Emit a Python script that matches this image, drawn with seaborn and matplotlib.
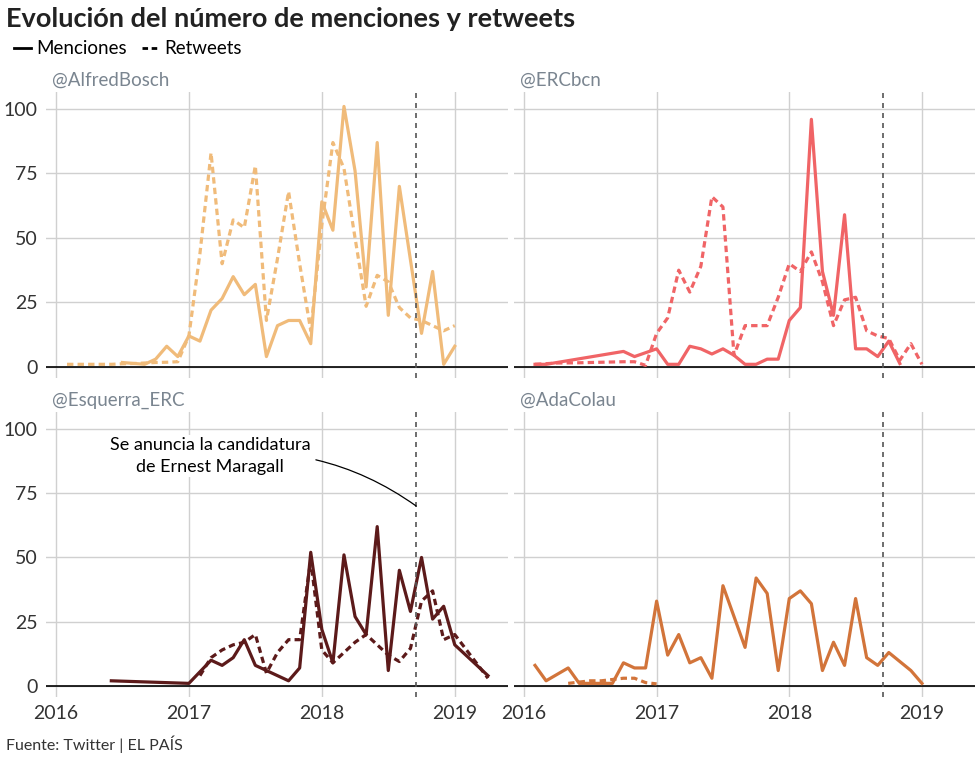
import numpy as np
import pandas as pd
import matplotlib
matplotlib.use("Agg")
import matplotlib.pyplot as plt
import seaborn as sns
from matplotlib.lines import Line2D

plt.rcParams["font.family"] = "Lato"

# Datos (mes, valor)
BOSCH_MEN_MESES = ["2016-07", "2016-09", "2016-10", "2016-11", "2016-12",
                   "2017-01", "2017-02", "2017-03", "2017-04", "2017-05", "2017-06",
                   "2017-07", "2017-08", "2017-09", "2017-10", "2017-11", "2017-12",
                   "2018-01", "2018-02", "2018-03", "2018-04", "2018-05", "2018-06",
                   "2018-07", "2018-08", "2018-10", "2018-11", "2018-12", "2019-01"]
BOSCH_MEN = [1.7, 1, 3, 8, 4, 12, 10, 22, 26.5, 35, 28, 32, 4, 16, 18, 18, 9,
             64, 53, 101, 76, 31, 87, 20, 70, 13, 37, 1, 8]
BOSCH_RT_MESES = ["2016-02", "2016-03", "2016-04", "2016-05", "2016-06", "2016-07",
                  "2016-08", "2016-09", "2016-10", "2016-11", "2016-12",
                  "2017-01", "2017-02", "2017-03", "2017-04", "2017-05", "2017-06",
                  "2017-07", "2017-08", "2017-09", "2017-10", "2017-11", "2017-12",
                  "2018-01", "2018-02", "2018-03", "2018-04", "2018-05", "2018-06",
                  "2018-07", "2018-08", "2018-09", "2018-10", "2018-11", "2018-12", "2019-01"]
BOSCH_RT = [1, 1, 1, 1, 1, 1.2, 1.3, 1.5, 1.7, 1.8, 2,
            12, 44, 83, 40, 57, 54, 78, 18, 42, 68, 40, 14,
            55, 87, 77, 50, 23.5, 35.5, 33, 23, 19, 18, 16, 14, 16]

ERC_MEN_MESES = ["2016-02", "2016-03", "2016-10", "2016-11", "2017-01", "2017-02",
                 "2017-03", "2017-04", "2017-05", "2017-06", "2017-07", "2017-08",
                 "2017-09", "2017-10", "2017-11", "2017-12", "2018-01", "2018-02",
                 "2018-03", "2018-04", "2018-05", "2018-06", "2018-07", "2018-08",
                 "2018-09", "2018-10", "2018-11"]
ERC_MEN = [1, 1, 6, 4, 7, 1, 1, 8, 7, 5, 7, 4.5, 1, 1, 3, 3, 18, 23, 96, 37, 20,
           59, 7, 7, 4, 10, 1.3]
ERC_RT_MESES = ["2016-02", "2016-04", "2016-06", "2016-08", "2016-10", "2016-11",
                "2016-12", "2017-01", "2017-02", "2017-03", "2017-04", "2017-05",
                "2017-06", "2017-07", "2017-08", "2017-09", "2017-10", "2017-11",
                "2017-12", "2018-01", "2018-02", "2018-03", "2018-04", "2018-05",
                "2018-06", "2018-07", "2018-08", "2018-09", "2018-10", "2018-11",
                "2018-12", "2019-01"]
ERC_RT = [1, 1.5, 1.6, 1.8, 2, 2, 0.6, 13, 19, 37.5, 29, 39, 66, 62, 4.5, 16, 16,
          16, 27, 40, 37, 44.6, 33, 16, 26, 27, 14, 12, 11, 2.6, 9, 1]

ESQ_MEN_MESES = ["2016-06", "2017-01", "2017-03", "2017-04", "2017-05", "2017-06",
                 "2017-07", "2017-08", "2017-09", "2017-10", "2017-11", "2017-12",
                 "2018-01", "2018-02", "2018-03", "2018-04", "2018-05", "2018-06",
                 "2018-07", "2018-08", "2018-09", "2018-10", "2018-11", "2018-12",
                 "2019-01", "2019-04"]
ESQ_MEN = [2, 1, 10, 8, 11, 18, 8, 6, 4, 2, 7, 52, 22, 9, 51, 27, 20, 62, 6, 45,
           29, 50, 26, 31, 16, 4]
ESQ_RT_MESES = ["2017-02", "2017-03", "2017-04", "2017-05", "2017-06", "2017-07",
                "2017-08", "2017-09", "2017-10", "2017-11", "2017-12", "2018-01",
                "2018-02", "2018-03", "2018-04", "2018-05", "2018-06", "2018-07",
                "2018-08", "2018-09", "2018-10", "2018-11", "2018-12", "2019-01",
                "2019-04"]
ESQ_RT = [4, 11, 14, 16, 17, 20, 5, 13, 18, 18, 49, 14, 9, 13, 17, 20, 16, 12,
          9.5, 14.6, 33, 37, 18, 20, 3]

ADA_MEN_MESES = ["2016-02", "2016-03", "2016-05", "2016-06", "2016-07", "2016-08",
                 "2016-09", "2016-10", "2016-11", "2016-12", "2017-01", "2017-02",
                 "2017-03", "2017-04", "2017-05", "2017-06", "2017-07", "2017-08",
                 "2017-09", "2017-10", "2017-11", "2017-12", "2018-01", "2018-02",
                 "2018-03", "2018-04", "2018-05", "2018-06", "2018-07", "2018-08",
                 "2018-09", "2018-10", "2018-12", "2019-01"]
ADA_MEN = [8, 2, 7, 1, 1, 1, 1, 9, 7, 7, 33, 12, 20, 9, 11, 3, 39, 27, 15, 42,
           36, 6, 34, 37, 32, 6, 17, 8, 34, 11, 8, 13, 6, 1]
ADA_RT_MESES = ["2016-05", "2016-06", "2016-07", "2016-08", "2016-09", "2016-10",
                "2016-11", "2016-12", "2017-01"]
ADA_RT = [1, 1.5, 2, 2, 2.5, 3, 3, 1.3, 0.8]

CUENTAS = ["@AlfredBosch", "@ERCbcn", "@Esquerra_ERC", "@AdaColau"]
COLORES = ["#F0BB7A", "#F06466", "#5C1A1A", "#D2743A"]
SERIES = [(BOSCH_MEN_MESES, BOSCH_MEN, BOSCH_RT_MESES, BOSCH_RT),
          (ERC_MEN_MESES, ERC_MEN, ERC_RT_MESES, ERC_RT),
          (ESQ_MEN_MESES, ESQ_MEN, ESQ_RT_MESES, ESQ_RT),
          (ADA_MEN_MESES, ADA_MEN, ADA_RT_MESES, ADA_RT)]
ANIOS = [2016, 2017, 2018, 2019]
Y_TICKS = [0, 25, 50, 75, 100]
ANUNCIO = 2018.71


def a_decimal(meses):
    d = pd.to_datetime(meses)
    return d.year + (d.month - 1) / 12


def tabla(men_m, men, rt_m, rt):
    a = pd.DataFrame({"x": a_decimal(men_m), "y": men, "tipo": "Menciones"})
    b = pd.DataFrame({"x": a_decimal(rt_m), "y": rt, "tipo": "Retweets"})
    return pd.concat([a, b], ignore_index=True)


fig = plt.figure(figsize=(9.8, 7.59), dpi=100)
posiciones = [[0.0469, 0.502, 0.4714, 0.3768], [0.5245, 0.502, 0.4704, 0.3768],
              [0.0469, 0.0817, 0.4714, 0.3755], [0.5245, 0.0817, 0.4704, 0.3755]]

for i, (cuenta, color, datos) in enumerate(zip(CUENTAS, COLORES, SERIES)):
    ax = fig.add_axes(posiciones[i])
    df = tabla(*datos)
    sns.lineplot(data=df, x="x", y="y", style="tipo", color=color, linewidth=2.3,
                 dashes={"Menciones": "", "Retweets": (2, 1.3)}, legend=False, ax=ax)
    ax.set_xlim(2015.925, 2019.40)
    ax.set_ylim(-4.3, 106.6)
    ax.set_xticks(ANIOS)
    ax.set_yticks(Y_TICKS)
    ax.grid(True, color="#D0D0D0", linewidth=1)
    ax.set_axisbelow(True)
    ax.axhline(0, color="black", linewidth=1.2, zorder=1)
    ax.axvline(ANUNCIO, color="#555555", linestyle=(0, (3, 3)), linewidth=1.2)
    for s in ax.spines.values():
        s.set_visible(False)
    ax.tick_params(length=0, labelsize=14, colors="#333333", pad=6)
    ax.set_xlabel("")
    ax.set_ylabel("")
    if i % 2 == 1:
        ax.set_yticklabels([])
    if i < 2:
        ax.set_xticklabels([])
    ax.text(0.012, 1.01, cuenta, transform=ax.transAxes, fontsize=13.5,
            color="#7A8590", va="bottom")
    if i == 2:
        ax.annotate("Se anuncia la candidatura\nde Ernest Maragall",
                    xy=(ANUNCIO, 70), xytext=(2017.16, 89.5), ha="center",
                    va="center", fontsize=13, linespacing=1.4,
                    bbox=dict(facecolor="white", edgecolor="none", pad=2),
                    arrowprops=dict(arrowstyle="-", color="black", linewidth=0.9,
                                    connectionstyle="arc3,rad=-0.2",
                                    shrinkA=2, shrinkB=0))

fig.text(0.006, 0.975, "Evolución del número de menciones y retweets",
         fontsize=19.5, fontweight="bold", va="center", color="#222222")
handles = [Line2D([], [], color="black", linewidth=2),
           Line2D([], [], color="black", linewidth=2, linestyle=(0, (2, 1.3)))]
fig.legend(handles, ["Menciones", "Retweets"], loc="center left",
           bbox_to_anchor=(-0.003, 0.936), ncol=2, frameon=False, fontsize=13.5,
           handlelength=0.9, handletextpad=0.3, columnspacing=0.8)
fig.text(0.006, 0.012, "Fuente: Twitter | EL PAÍS", fontsize=11.5, color="#333333")

fig.savefig("out.png", dpi=100)
